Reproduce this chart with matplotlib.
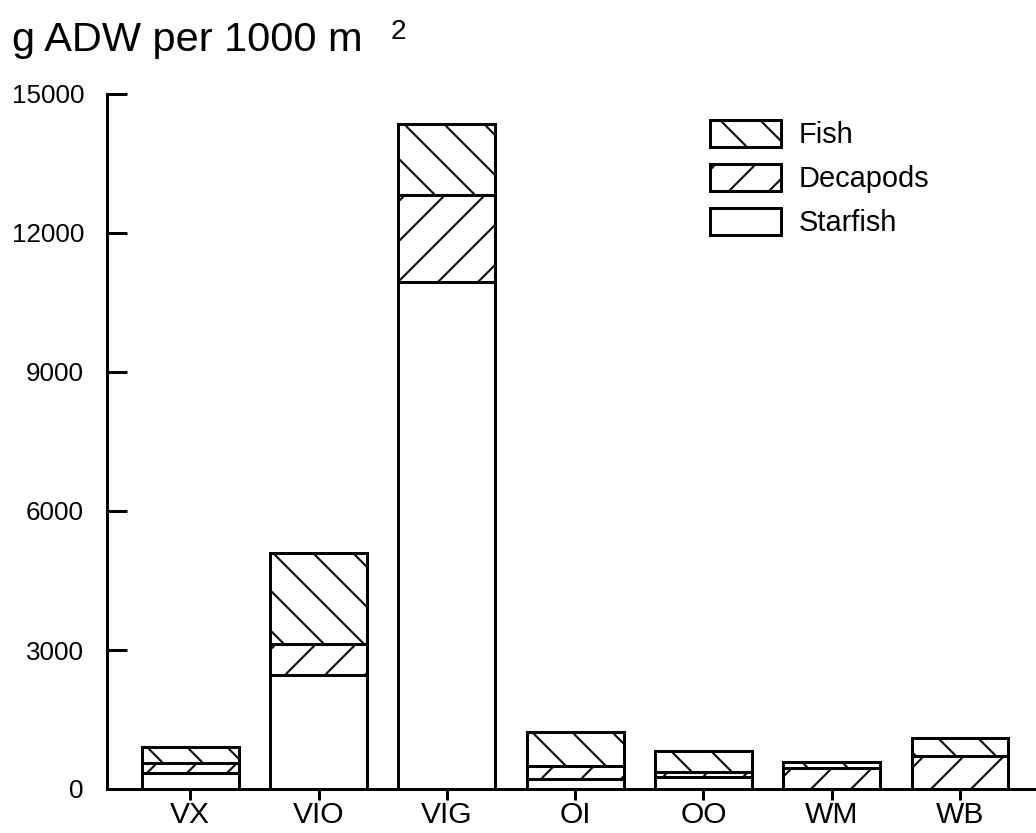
import matplotlib
matplotlib.use("Agg")
import matplotlib.pyplot as plt
import numpy as np

# ---- data ----
categories = ["VX", "VIO", "VIG", "OI", "OO", "WM", "WB"]
starfish = [350, 2460, 10940, 215, 250, 0, 0]
decapods = [220, 670, 1880, 290, 110, 460, 710]
fish = [330, 1960, 1530, 735, 460, 120, 380]
yticks = [0, 3000, 6000, 9000, 12000, 15000]
title_text = "g ADW per 1000 m"
title_sup = "2"

DPI = 240
W, H = 1036, 833
PX = 72.0 / DPI  # points per pixel

plt.rcParams['font.family'] = ['Liberation Sans', 'DejaVu Sans']
plt.rcParams['hatch.linewidth'] = 2.0 * PX
plt.rcParams['hatch.color'] = 'black'

fig = plt.figure(figsize=(W / DPI, H / DPI), dpi=DPI)
fig.patch.set_facecolor('white')

left_px, right_px, top_px, bottom_px = 107, 1036, 94, 789
ax = fig.add_axes([left_px / W, 1 - bottom_px / H,
                   (right_px - left_px) / W, (bottom_px - top_px) / H])

x = np.arange(len(categories))
width = 0.755
lw = 3.0 * PX
s = np.array(starfish, dtype=float)
d = np.array(decapods, dtype=float)
f = np.array(fish, dtype=float)

b1 = ax.bar(x, s, width, facecolor='white', edgecolor='black', linewidth=lw,
            label='Starfish')
b2 = ax.bar(x, d, width, bottom=s, facecolor='white', edgecolor='black',
            linewidth=lw, hatch='//', label='Decapods')
b3 = ax.bar(x, f, width, bottom=s + d, facecolor='white', edgecolor='black',
            linewidth=lw, hatch='\\\\', label='Fish')

spacing = 128.3
x0 = 190.2
ax.set_xlim((left_px - x0) / spacing, (right_px - x0) / spacing)
ax.set_ylim(0, 15000)

ax.set_xticks(x)
ax.set_xticklabels(categories)
ax.set_yticks(yticks)
ax.set_yticklabels([str(v) for v in yticks])

for sp in ['top', 'right']:
    ax.spines[sp].set_visible(False)
for sp in ['left', 'bottom']:
    ax.spines[sp].set_linewidth(lw)

ax.tick_params(axis='x', direction='out', length=11 * PX, width=lw,
               labelsize=30 * PX, pad=1 * PX)
ax.tick_params(axis='y', direction='in', length=20 * PX, width=lw,
               labelsize=26 * PX, pad=23 * PX)

leg = ax.legend(handles=[b3, b2, b1], labels=['Fish', 'Decapods', 'Starfish'],
                loc='upper left', bbox_to_anchor=(710 / W, 1 - 120 / H),
                bbox_transform=fig.transFigure, frameon=False,
                fontsize=29 * PX, handlelength=2.45, handleheight=1.05,
                handletextpad=0.6, labelspacing=0.5, borderpad=0,
                borderaxespad=0)

fig.text(12 / W, 1 - 51 / H, title_text, fontsize=41.5 * PX,
         ha='left', va='baseline')
fig.text(391 / W, 1 - 39 / H, title_sup, fontsize=28 * PX,
         ha='left', va='baseline')

fig.savefig('out.png', dpi=DPI, facecolor='white')
